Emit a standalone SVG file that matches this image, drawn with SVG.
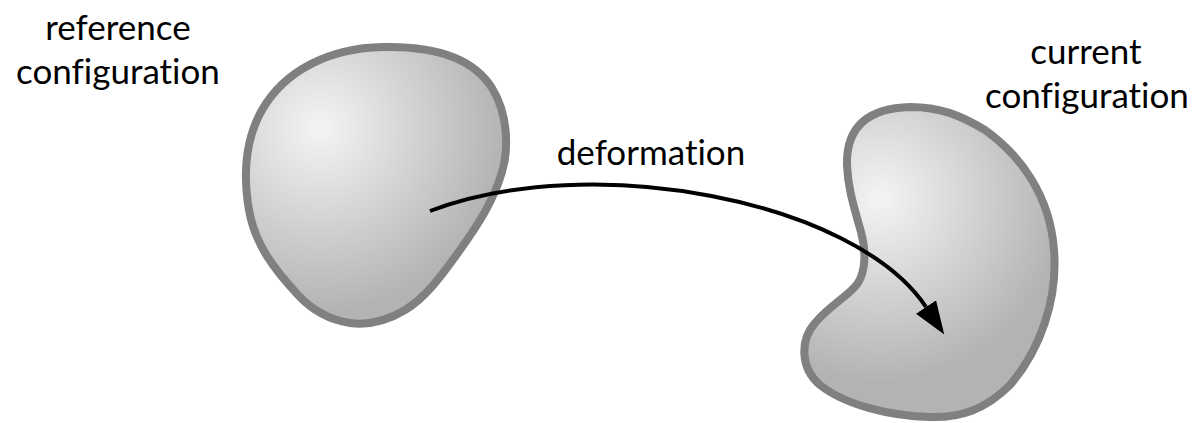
<svg xmlns="http://www.w3.org/2000/svg" width="1194" height="423" viewBox="0 0 1194 423">
  <style>
    .blob { stroke: #808080; stroke-width: 8; stroke-linejoin: round; }
    .lbl { font-family: Lato, "Open Sans", sans-serif; font-size: 35px; fill: #000; text-anchor: middle; font-variant-ligatures: none; font-feature-settings: "liga" 0, "dlig" 0; }
    .conn { fill: none; stroke: #000; stroke-width: 4; }
  </style>
  <defs>
    <radialGradient id="gradRef" gradientUnits="userSpaceOnUse" cx="320" cy="128" r="185">
      <stop offset="0" stop-color="#f4f4f4"/>
      <stop offset="1" stop-color="#b3b3b3"/>
    </radialGradient>
    <radialGradient id="gradCur" gradientUnits="userSpaceOnUse" cx="880" cy="198" r="185">
      <stop offset="0" stop-color="#f4f4f4"/>
      <stop offset="1" stop-color="#b3b3b3"/>
    </radialGradient>
    <marker id="arrow" markerUnits="userSpaceOnUse" markerWidth="38" markerHeight="28" viewBox="0 -14 38 28" refX="0" refY="0" orient="auto">
      <path d="M0,-12 L33,0 L0,12 Z" fill="#000"/>
    </marker>
  </defs>

  <g id="reference-configuration">
    <path class="blob" fill="url(#gradRef)" d="M 383,47 C 430,46 472,56 492,88 C 508,114 509,148 502,172 C 494,200 478,225 460,250 C 440,278 425,298 405,310 C 385,322 365,325 350,323 C 330,320 312,310 298,295 C 275,270 255,245 249,210 C 243,175 245,140 262,110 C 285,70 330,48 383,47 Z"/>
    <text class="lbl" x="118" y="40">reference</text>
    <text class="lbl" x="118" y="84">configuration</text>
  </g>

  <g id="current-configuration">
    <path class="blob" fill="url(#gradCur)" d="M 910,107 C 940,107 960,115 985,130 C 1020,155 1050,195 1054,250 C 1058,300 1040,350 1010,385 C 985,410 960,418 930,417 C 890,416 845,405 820,385 C 800,368 800,340 815,323 C 830,305 850,295 858,283 C 866,270 866,250 861,232 C 855,210 848,190 847,165 C 846,125 870,108 910,107 Z"/>
    <text class="lbl" x="1086" y="64">current</text>
    <text class="lbl" x="1087" y="108">configuration</text>
  </g>

  <g id="connectors">
    <path id="deformation-arrow" class="conn" marker-end="url(#arrow)" d="M 430,211 C 590,150 855,200 926,307"/>
    <text class="lbl" x="651" y="165">deformation</text>
  </g>
</svg>
